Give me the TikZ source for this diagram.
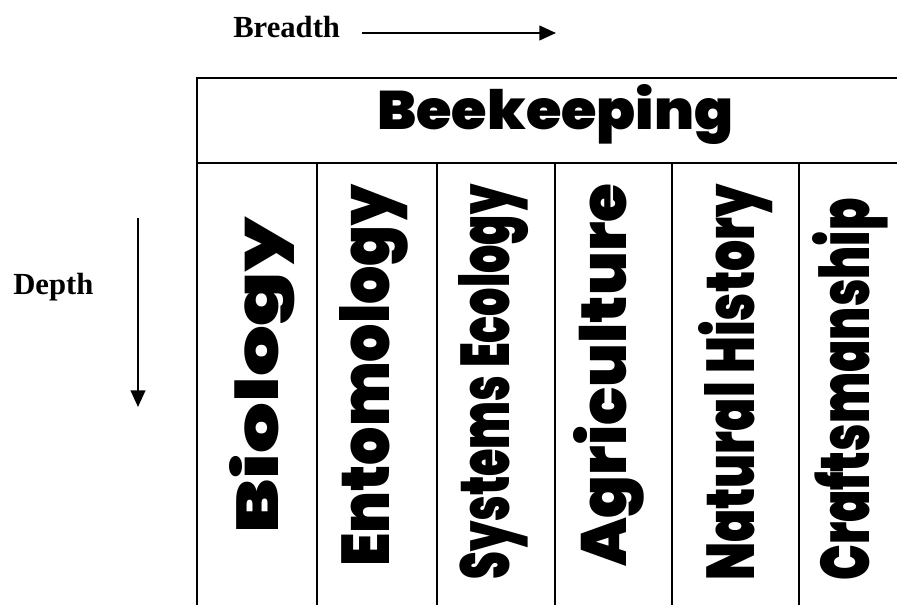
\documentclass[tikz,border=0pt]{standalone}
\usepackage{fontspec}
\usepackage{graphicx}
\setmainfont{Liberation Serif}
\newfontfamily\heavyfont{Poppins Black}
\usetikzlibrary{arrows.meta}
\newdimen\pxu \pxu=0.75pt
\newcommand{\heavyword}[3]{\resizebox{#1\pxu}{#2\pxu}{\heavyfont #3}}

\begin{document}
\begin{tikzpicture}[x=0.75pt, y=-0.75pt,
  cell/.style={rectangle, draw, line width=1.2pt, anchor=north west, inner sep=0pt},
  word/.style={inner sep=0pt, anchor=base west},
  side/.style={inner sep=0pt, anchor=base west, font=\fontsize{23}{27}\selectfont\bfseries},
  arr/.style={-{Triangle[length=12.5pt, width=11pt]}, line width=1.6pt}]
\useasboundingbox (0,0) rectangle (897,605);
\clip (0,0) rectangle (897,605);
% table
\node[cell, minimum width=541.5pt, minimum height=63.75pt] (head) at (196,77) {};
\foreach \name/\xl/\xr in {cellA/196/316, cellB/316/436, cellC/436/554, cellD/554/671, cellE/671/798, cellF/798/918}
  \node[cell, minimum width={(\xr-\xl)*0.75pt}, minimum height=403.5pt] (\name) at (\xl,162) {};
\node[word] (beekeeping) at (377,130) {\heavyword{356}{45}{Beekeeping}};
% columns
\node[word, rotate=90] (biology) at (278,534) {\heavyword{316}{49}{Biology}};
\node[word, rotate=90] (entomology) at (389,567) {\heavyword{382}{50}{Entomology}};
\node[word, rotate=90] (ecology) at (509,580) {\heavyword{395}{51}{Systems Ecology}};
\node[word, rotate=90] (agriculture) at (626,567) {\heavyword{383}{53}{Agriculture}};
\node[word, rotate=90] (history) at (754,581) {\heavyword{396}{56}{Natural History}};
\node[word, rotate=90] (craft) at (869,581) {\heavyword{382}{57}{Craftsmanship}};
% axes
\node[side] (breadth) at (233,38) {Breadth};
\coordinate (breadthStart) at (362,33);
\coordinate (breadthEnd) at (556,33);
\draw[arr] (breadthStart) -- (breadthEnd);
\node[side] (depth) at (13,295) {Depth};
\coordinate (depthStart) at (138,218);
\coordinate (depthEnd) at (138,407);
\draw[arr] (depthStart) -- (depthEnd);
\end{tikzpicture}
\end{document}
